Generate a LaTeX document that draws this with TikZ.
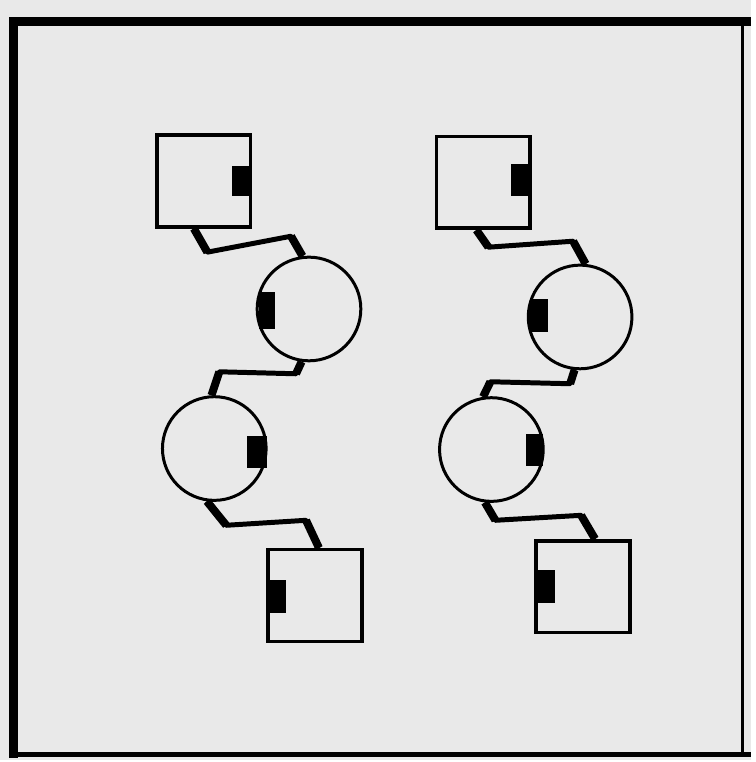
\documentclass[tikz,border=0pt]{standalone}
\usetikzlibrary{calc}
\definecolor{paper}{RGB}{233,233,233}

\begin{document}
\begin{tikzpicture}[x=1pt,y=-1pt,
  box/.style={draw,line width=3.6pt,fill=paper,minimum width=94pt,minimum height=92pt,inner sep=0pt},
  ball/.style={draw,circle,line width=3pt,fill=paper,minimum size=104pt,inner sep=0pt},
  wire/.style={line width=5pt,line join=round},
  lead/.style={line width=8pt}]
  \fill[paper] (0,0) rectangle (753,762);
  \draw[line width=9pt] (14,760) -- (14,22) -- (753,22);
  \draw[line width=2.5pt] (745,22) -- (745,757);
  \draw[line width=4.5pt] (10,757) -- (753,757);
  \node[box] (sqA) at (204.5,181.5) {};
  \node[box] (sqB) at (316,597.5) {};
  \node[box] (sqC) at (485,183) {};
  \node[box] (sqD) at (585,588.5) {};
  \node[ball] (cA) at (310,310) {};
  \node[ball] (cB) at (215,450) {};
  \node[ball] (cC) at (582,318) {};
  \node[ball] (cD) at (493,451) {};
  \foreach \n/\dx/\dy/\w/\h in {sqA.east/-21/-14.5/18/30, cA.west/3/-17/16/37,
      cB.east/-21/-13/20/33, sqB.west/2/-15.5/18/33, sqC.east/-21/-18/18/32,
      cC.west/3/-18/18/33, cD.east/-19/-16/17/33, sqD.west/3/-16.5/18/33} {
    \fill ($(\n)+(\dx,\dy)$) rectangle +(\w,\h);
  }
  \draw[wire] ([xshift=-10pt]sqA.south) -- (208,253) -- (292,237) -- (cA.97);
  \draw[lead] ([xshift=-10pt]sqA.south) -- (208,253) (292,237) -- (cA.97);
  \draw[wire] (cA.262) -- (297,375) -- (220,373) -- (cB.93);
  \draw[lead] (cA.262) -- (297,375) (220,373) -- (cB.93);
  \draw[wire] (cB.262) -- (227,527) -- (307,522) -- ([xshift=4pt]sqB.north);
  \draw[lead] (cB.262) -- (227,527) (307,522) -- ([xshift=4pt]sqB.north);
  \draw[wire] ([xshift=-7pt]sqC.south) -- (490,248) -- (575,242) -- (cC.84);
  \draw[lead] ([xshift=-7pt]sqC.south) -- (490,248) (575,242) -- (cC.84);
  \draw[wire] (cC.264) -- (572,385) -- (492,383) -- (cD.99);
  \draw[lead] (cC.264) -- (572,385) (492,383) -- (cD.99);
  \draw[wire] (cD.263) -- (497,522) -- (583,517) -- ([xshift=12pt]sqD.north);
  \draw[lead] (cD.263) -- (497,522) (583,517) -- ([xshift=12pt]sqD.north);
\end{tikzpicture}
\end{document}
